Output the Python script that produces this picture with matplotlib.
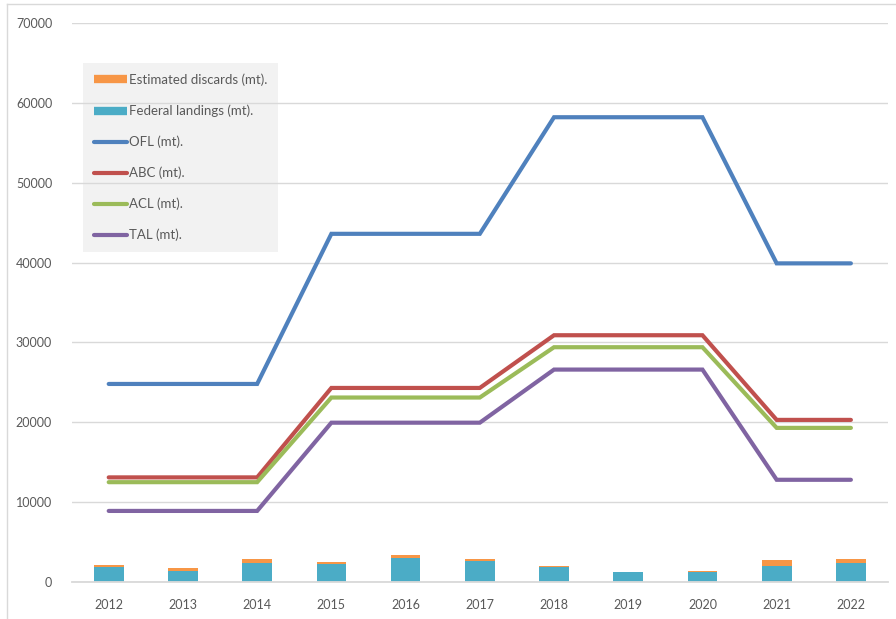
import matplotlib
matplotlib.use('Agg')
import matplotlib.pyplot as plt
from matplotlib.lines import Line2D
import numpy as np

plt.rcParams['font.family'] = ['Lato', 'DejaVu Sans']

# Catch limits and landings by year (metric tons)
years = ['2012', '2013', '2014', '2015', '2016', '2017', '2018', '2019', '2020', '2021', '2022']
ofl = [24800, 24800, 24800, 43600, 43600, 43600, 58200, 58200, 58200, 39900, 39900]
abc = [13100, 13100, 13100, 24300, 24300, 24300, 30900, 30900, 30900, 20300, 20300]
acl = [12500, 12500, 12500, 23100, 23100, 23100, 29400, 29400, 29400, 19300, 19300]
tal = [8900, 8900, 8900, 19950, 19950, 19950, 26600, 26600, 26600, 12800, 12800]
landings = [1880, 1380, 2430, 2250, 3050, 2630, 1840, 1210, 1210, 2050, 2430]
discards = [250, 330, 450, 300, 290, 210, 210, 90, 220, 700, 410]

c_ofl = '#4F81BD'
c_abc = '#C0504D'
c_acl = '#9BBB59'
c_tal = '#8064A2'
c_land = '#4BACC6'
c_disc = '#F79646'
txt = '#595959'

fig = plt.figure(figsize=(8.96, 6.19), dpi=100)
ax = fig.add_axes([71.6 / 896, 37 / 619, (888 - 71.6) / 896, 559 / 619])

x = np.arange(len(years))

# stacked bars: landings with discards on top
ax.bar(x, landings, width=0.4, color=c_land, zorder=1)
ax.bar(x, discards, width=0.4, bottom=landings, color=c_disc, zorder=1)

lw = 3
for vals, col in [(ofl, c_ofl), (abc, c_abc), (acl, c_acl), (tal, c_tal)]:
    ax.plot(x, vals, color=col, lw=lw, solid_capstyle='round', solid_joinstyle='miter', zorder=2)

ax.set_xlim(-0.5, len(years) - 0.5)
ax.set_ylim(0, 70000)
ax.set_yticks(np.arange(0, 70001, 10000))
ax.set_xticks(x)
ax.set_xticklabels(years)
ax.tick_params(axis='both', length=0, labelsize=9, labelcolor=txt)
ax.tick_params(axis='y', pad=14)
ax.tick_params(axis='x', pad=12)

ax.grid(axis='y', color='#D9D9D9', lw=1)
ax.set_axisbelow('line')
for s in ['top', 'right', 'left']:
    ax.spines[s].set_visible(False)
ax.spines['bottom'].set_color('#D9D9D9')
ax.spines['bottom'].set_linewidth(1.3)

handles = [
    Line2D([0], [0], color=c_disc, lw=6, solid_capstyle='butt'),
    Line2D([0], [0], color=c_land, lw=6, solid_capstyle='butt'),
    Line2D([0], [0], color=c_ofl, lw=lw, solid_capstyle='round'),
    Line2D([0], [0], color=c_abc, lw=lw, solid_capstyle='round'),
    Line2D([0], [0], color=c_acl, lw=lw, solid_capstyle='round'),
    Line2D([0], [0], color=c_tal, lw=lw, solid_capstyle='round'),
]
labels = ['Estimated discards (mt).', 'Federal landings (mt).', 'OFL (mt).',
          'ABC (mt).', 'ACL (mt).', 'TAL (mt).']
leg = ax.legend(handles, labels, loc='upper left',
                bbox_to_anchor=((83 - 71.6) / 816.4, (582 - 63) / 559),
                fontsize=9.5, labelcolor=txt, frameon=True, fancybox=False,
                facecolor='#F2F2F2', edgecolor='none', framealpha=1,
                handlelength=2.55, handletextpad=0.15, labelspacing=1.4,
                borderpad=0.8, borderaxespad=0)
leg.set_zorder(1)

# light outer border of the chart area
fig.add_artist(Line2D([7 / 896, 7 / 896], [0, 1 - 4 / 619], color='#D9D9D9', lw=1,
                      transform=fig.transFigure))
fig.add_artist(Line2D([7 / 896, 1], [1 - 4 / 619, 1 - 4 / 619], color='#D9D9D9', lw=1,
                      transform=fig.transFigure))

fig.savefig('out.png', dpi=100)
